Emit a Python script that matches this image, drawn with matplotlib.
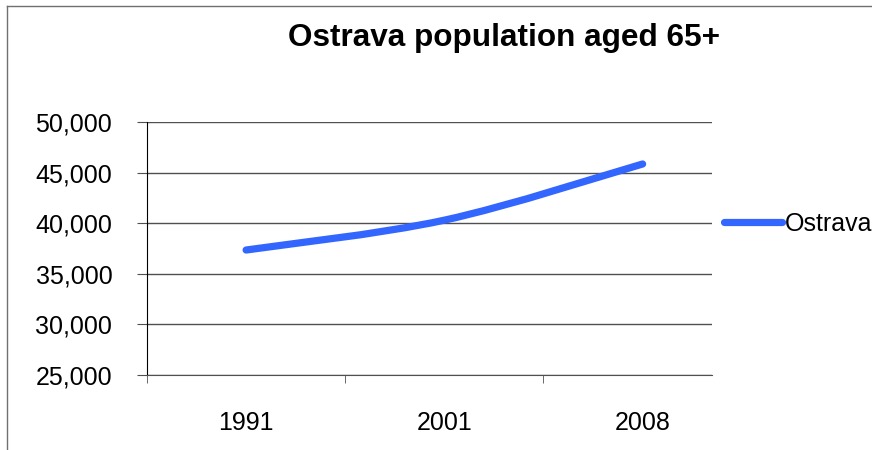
import matplotlib.pyplot as plt
from matplotlib.path import Path
from matplotlib.patches import PathPatch
from matplotlib.lines import Line2D
from matplotlib.ticker import FuncFormatter, FixedLocator
import numpy as np

plt.rcParams['font.family'] = ['Liberation Sans', 'DejaVu Sans']

years = ['1991', '2001', '2008']
population_65 = [37350, 40300, 45850]
series_name = 'Ostrava'
line_color = '#3366FF'

fig = plt.figure(figsize=(8.72, 4.5), dpi=100)

# chart frame (left and top edges only)
fig.add_artist(Line2D([7/872, 7/872], [0, 1 - 6/450], transform=fig.transFigure,
                      color='#707070', lw=1))
fig.add_artist(Line2D([7/872, 1], [1 - 6/450, 1 - 6/450], transform=fig.transFigure,
                      color='#707070', lw=1))

ax = fig.add_axes([147/872, 1 - 375/450, (712 - 147)/872, (375 - 122)/450])

# smoothed line through the points (Catmull-Rom style Bezier segments)
x = np.arange(len(population_65), dtype=float)
y = np.array(population_65, dtype=float)
verts = [(x[0], y[0])]
codes = [Path.MOVETO]
for i in range(len(x) - 1):
    p0 = (x[max(i - 1, 0)], y[max(i - 1, 0)])
    p1 = (x[i], y[i])
    p2 = (x[i + 1], y[i + 1])
    p3 = (x[min(i + 2, len(x) - 1)], y[min(i + 2, len(x) - 1)])
    c1 = (p1[0] + (p2[0] - p0[0]) / 6, p1[1] + (p2[1] - p0[1]) / 6)
    c2 = (p2[0] - (p3[0] - p1[0]) / 6, p2[1] - (p3[1] - p1[1]) / 6)
    verts += [c1, c2, p2]
    codes += [Path.CURVE4] * 3
ax.add_patch(PathPatch(Path(verts, codes), facecolor='none', edgecolor=line_color,
                       lw=5.2, capstyle='round', joinstyle='round', zorder=3))

ax.set_xlim(-0.5, 2.35)
ax.set_ylim(25000, 50000)
ax.set_yticks(np.arange(25000, 50001, 5000))
ax.yaxis.set_major_formatter(FuncFormatter(lambda v, p: f'{int(v):,}'))
ax.grid(axis='y', color='#505050', lw=1)
ax.set_axisbelow(True)

ax.set_xticks(x)
ax.set_xticklabels(years)
ax.xaxis.set_minor_locator(FixedLocator([-0.5, 0.5, 1.5]))
ax.tick_params(axis='x', which='major', length=0, pad=26, labelsize=18)
ax.tick_params(axis='x', which='minor', length=6, color='#505050', direction='out')
ax.tick_params(axis='y', length=7, pad=18, labelsize=18, color='#505050')

for side in ['top', 'right']:
    ax.spines[side].set_visible(False)
ax.spines['left'].set_color('black')
ax.spines['bottom'].set_color('#505050')

fig.text(504/872, 1 - 38/450, 'Ostrava population aged 65+', ha='center', va='center',
         fontsize=22.7, fontweight='bold')

legend_handle = Line2D([], [], color=line_color, lw=5.2, solid_capstyle='round')
fig.legend([legend_handle], [series_name], loc='center left',
           bbox_to_anchor=(724/872, 1 - 224/450), frameon=False, fontsize=18,
           borderpad=0, borderaxespad=0, handlelength=2.3, handletextpad=0.12)

fig.savefig('out.png', dpi=100)
